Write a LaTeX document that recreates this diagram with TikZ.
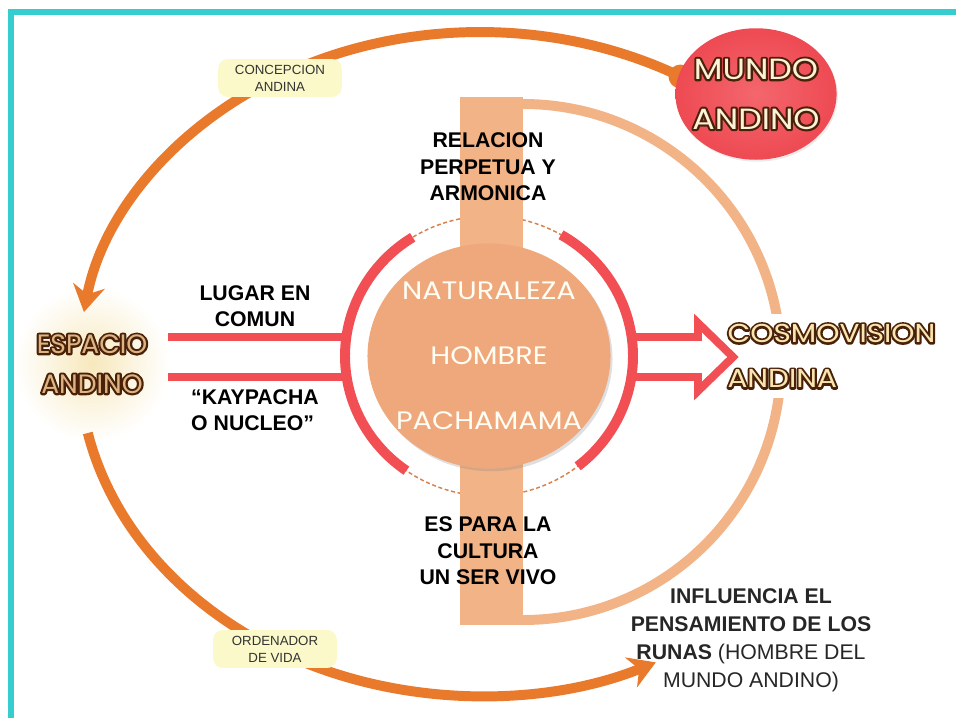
\documentclass[tikz,border=0pt]{standalone}
\usepackage{fontspec}
\setmainfont{Liberation Sans}
\newfontfamily\gothic[FakeStretch=1.14]{Poppins}
\newfontfamily\gothicplain{Poppins}
\usetikzlibrary{arrows.meta,shapes.geometric,shadows}
\newcommand{\glowword}[1]{\rlap{\special{pdf:literal direct 1 Tr 3.2 w 1 j 0.29 0.13 0.03 RG}#1\special{pdf:literal direct 0 Tr}}#1}

\definecolor{framecyan}{HTML}{36CDD1}
\definecolor{arcorange}{HTML}{E97A2C}
\definecolor{barsalmon}{HTML}{F2B387}
\definecolor{coresalmon}{HTML}{EFA87B}
\definecolor{ringred}{HTML}{F24F55}
\definecolor{dashbrown}{HTML}{D9804A}
\definecolor{tagyellow}{HTML}{FBF9C9}
\definecolor{mundored}{HTML}{EE4A53}
\definecolor{mundolight}{HTML}{F4666D}
\definecolor{creamtext}{HTML}{FCF2D8}
\definecolor{cosmotext}{HTML}{F8E6B0}
\definecolor{tantext}{HTML}{DDB583}
\definecolor{espaciocream}{HTML}{F7E8BC}

\begin{document}
\begin{tikzpicture}[x=0.2646mm,y=0.2646mm,
  bigarc/.style={arcorange,line width=7.5pt},
  bigtip/.style={-{Stealth[length=20pt,width=24pt]}},
  redline/.style={ringred,line width=6pt},
  redarc/.style={ringred,line width=7.5pt},
  tag/.style={fill=tagyellow,rounded corners=7pt,minimum width=93pt,minimum height=28.5pt,
    align=center,inner sep=2pt,text=black!80,font=\fontsize{10}{12.75}\selectfont},
  boldlabel/.style={align=center,text=black,font=\bfseries\fontsize{16}{20}\selectfont}]
\useasboundingbox (0,0) rectangle (956,-718);
\draw[framecyan,line width=4.5pt] (956,-12) -- (11,-12) -- (11,-718);

\coordinate (core) at (489,-356);
\coordinate (mundoend) at (680.5,-76.5);
\coordinate (espaciobot) at (87.8,-433);

\node[circle,minimum size=117pt,inner sep=0pt,inner color=espaciocream,outer color=white,
  text=tantext,align=center,font=\gothicplain\fontsize{20}{30}\selectfont]
  (espacio) at (92,-364) {\glowword{ESPACIO}\\\glowword{ANDINO}};

\draw[bigarc,bigtip] (mundoend) arc[start angle=60,end angle=171,x radius=401,y radius=332];
\fill[arcorange] (mundoend) circle (12);
\draw[bigarc,bigtip] (espaciobot) arc[start angle=192,end angle=296,x radius=401,y radius=332];

\fill[barsalmon] (460,-97) rectangle (523,-625);
\draw[barsalmon,line width=7.5pt] (523,-104) arc[start angle=90,end angle=-90,radius=258];

\draw[dashbrown,line width=1.1pt,dash pattern=on 3pt off 2pt] (core) circle[x radius=144,y radius=140];
\fill[barsalmon] (460,-190) rectangle (523,-520);
\draw[redarc] (core) ++(122:144 and 140) arc[start angle=122,end angle=235,x radius=144,y radius=140];
\draw[redarc] (core) ++(60:144 and 140) arc[start angle=60,end angle=-52,x radius=144,y radius=140];

\coordinate (lugarL) at (168,-337);
\coordinate (lugarR) at (347,-337);
\coordinate (kayL) at (168,-377);
\coordinate (kayR) at (347,-377);
\draw[redline] (lugarL) -- (lugarR);
\draw[redline] (kayL) -- (kayR);

\node[ellipse,fill=coresalmon,minimum width=183pt,minimum height=169.5pt,inner xsep=-6pt,inner ysep=0pt,
  drop shadow={opacity=0.25,shadow xshift=1.5pt,shadow yshift=-2pt},
  text=white!96!yellow,align=center,font=\gothic\fontsize{19}{49}\selectfont]
  (nucleo) at (core) {NATURALEZA\\HOMBRE\\PACHAMAMA};

\node[ellipse,minimum width=118.5pt,minimum height=99pt,inner xsep=-5pt,inner ysep=0pt,
  inner color=mundolight,outer color=mundored,
  drop shadow={opacity=0.15,shadow xshift=1pt,shadow yshift=-1.5pt},
  text=creamtext,align=center,font=\gothic\fontsize{22}{37.5}\selectfont]
  (mundo) at (756,-94) {\glowword{MUNDO}\\\glowword{ANDINO}};

\node[anchor=west,fill=white,inner xsep=4pt,inner ysep=8pt,align=left,text=cosmotext,
  font=\gothic\fontsize{19.5}{34}\selectfont]
  (cosmo) at (722,-356) {\glowword{COSMOVISION}\\\glowword{ANDINA}};

\coordinate (flechaA) at (632,-337);
\coordinate (flechaB) at (632,-377);
\draw[redline,line join=miter] (flechaA) -- (698,-337) -- (698,-323) -- (733,-357)
  -- (698,-391) -- (698,-377) -- (flechaB);

\node[tag] (concepcion) at (280,-78) {CONCEPCION\\ANDINA};
\node[tag] (ordenador) at (275,-649) {ORDENADOR\\DE VIDA};

\node[boldlabel] (relacion) at (488,-167) {RELACION\\PERPETUA Y\\ARMONICA};
\node[boldlabel] (servivo) at (488,-551) {ES PARA LA\\CULTURA\\UN SER VIVO};
\node[boldlabel] (lugar) at (255,-306) {LUGAR EN\\COMUN};
\node[boldlabel,align=left] (kaypacha) at (255,-410) {“KAYPACHA\\O NUCLEO”};
\node[align=center,text=black!85,font=\fontsize{16}{21}\selectfont] (runas) at (751,-640)
  {\textbf{INFLUENCIA EL}\\\textbf{PENSAMIENTO DE LOS}\\\textbf{RUNAS} (HOMBRE DEL\\MUNDO ANDINO)};
\end{tikzpicture}
\end{document}
